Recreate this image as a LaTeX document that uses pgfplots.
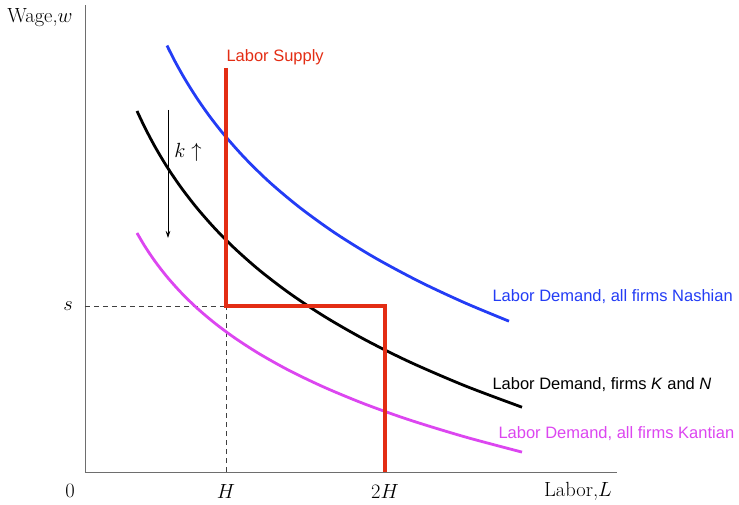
\documentclass[border=0pt]{standalone}
\usepackage{fix-cm}
\usepackage{pgfplots}
\pgfplotsset{compat=1.18}
\usetikzlibrary{arrows.meta}
\usepackage{fontspec}
\newfontfamily\hv{Liberation Sans}
\definecolor{supred}{RGB}{227,45,20}
\definecolor{nashblue}{RGB}{35,60,245}
\definecolor{kantmag}{RGB}{220,70,240}
\definecolor{axgray}{RGB}{110,110,110}
\newcommand{\serif}{\fontsize{20.5}{24}\selectfont}
\newcommand{\sans}{\hv\fontsize{16.5}{19}\selectfont}
\begin{document}
\begin{tikzpicture}
\begin{axis}[
  x=1pt, y=1pt,
  xmin=0, xmax=532, ymin=0, ymax=467,
  axis x line=bottom, axis y line=left,
  axis line style={-, draw=axgray, line width=0.9pt},
  xtick=\empty, ytick=\empty,
  clip=false,
]
% dashed guides
\addplot[black!75, line width=0.7pt, dash pattern=on 5pt off 4pt] coordinates {(0,166) (141,166)};
\addplot[black!75, line width=0.7pt, dash pattern=on 5pt off 4pt] coordinates {(141,0) (141,166)};
% Nashian demand
\addplot[nashblue, line width=2.8pt, smooth] coordinates {
(82,426.4) (90,410.6) (100,392.8) (112,373.7) (125,355.2) (140,336.2) (160,313.8)
(185,289.4) (215,264.3) (250,239.0) (290,214.2) (335,190.1) (380,169.1) (424,150.8)};
% K and N demand
\addplot[black, line width=2.8pt, smooth] coordinates {
(52,361.0) (60,344.2) (70,325.3) (82,305.2) (96,284.6) (112,263.9) (130,243.4)
(150,223.3) (175,201.3) (205,178.4) (240,155.2) (280,132.3) (325,109.9) (380,86.2) (437,64.8)};
% Kantian demand
\addplot[kantmag, line width=2.8pt, smooth] coordinates {
(52,239.0) (60,225.5) (70,210.7) (82,195.2) (96,179.5) (112,163.9) (130,148.7)
(150,133.9) (175,117.8) (205,101.1) (240,84.4) (280,67.9) (325,51.9) (380,35.1) (437,19.9)};
% Labor supply
\addplot[supred, line width=4.5pt, line join=miter] coordinates {(141,404) (141,166) (300,166) (300,0)};
% arrow
\addplot[black, line width=0.7pt, -{Stealth[length=7pt,width=4.5pt]}] coordinates {(83,362) (83,234)};
\node[anchor=center] at (axis cs:103,320) {\serif $k\uparrow$};
% labels
\node[anchor=west, text=supred] at (axis cs:138,415) {\sans Labor Supply};
\node[anchor=west, text=nashblue] at (axis cs:404,175) {\sans Labor Demand, all firms Nashian};
\node[anchor=west, text=black] at (axis cs:404,87) {\sans Labor Demand, firms \textit{K} and \textit{N}};
\node[anchor=west, text=kantmag] at (axis cs:410,38) {\sans Labor Demand, all firms Kantian};
\node at (axis cs:-45,454) {\serif Wage,$w$};
\node at (axis cs:493,-19) {\serif Labor,$L$};
\node at (axis cs:-15,-19) {\serif $0$};
\node at (axis cs:141,-19) {\serif $H$};
\node at (axis cs:300,-19) {\serif $2H$};
\node at (axis cs:-17,166) {\serif $s$};
\path (axis cs:-85,-32) rectangle (axis cs:654,472);
\end{axis}
\end{tikzpicture}
\end{document}
